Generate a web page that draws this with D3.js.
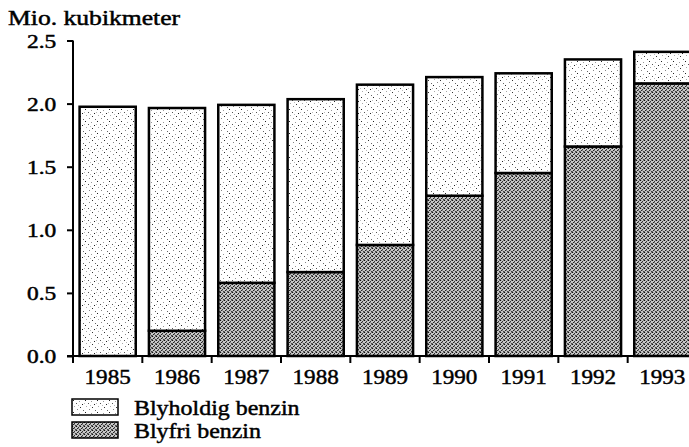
<!DOCTYPE html>
<html>
<head>
<meta charset="utf-8">
<script src="https://cdn.jsdelivr.net/npm/d3@7/dist/d3.min.js"></script>
<style>
  html, body { margin: 0; padding: 0; background: #fff; }
  svg { display: block; }
  text { font-family: "Liberation Serif", "DejaVu Serif", serif; fill: #000; stroke: #000; stroke-width: 0.45px; }
</style>
</head>
<body>
<svg id="chart" width="689" height="447"></svg>
<script>
// Benzinforbrug, mio. kubikmeter
const years = ["1985", "1986", "1987", "1988", "1989", "1990", "1991", "1992", "1993"];
const blyfri = [0.00, 0.20, 0.58, 0.665, 0.88, 1.27, 1.45, 1.66, 2.16];
const total = [1.975, 1.965, 1.99, 2.035, 2.15, 2.21, 2.24, 2.35, 2.41];
const blyholdig = total.map((t, i) => +(t - blyfri[i]).toFixed(3));
const yTicks = [0, 0.5, 1.0, 1.5, 2.0, 2.5];
const seriesNames = ["Blyholdig benzin", "Blyfri benzin"];

const svg = d3.select("#chart");
const x0 = 73, x1 = 697, yTop = 40.5, yBase = 356;

const x = d3.scaleBand().domain(years).range([x0, x1]).paddingInner(0.19).paddingOuter(0.095);
const xEdges = d3.scaleBand().domain(years).range([x0, x1]).padding(0);
const y = d3.scaleLinear().domain([0, 2.5]).range([yBase, yTop]);

// widen lettering horizontally (wide typeset print look)
function widen(sel, factor) {
  sel.each(function () {
    const w = this.getComputedTextLength();
    d3.select(this).attr("textLength", w * factor).attr("lengthAdjust", "spacingAndGlyphs");
  });
}

// stipple fills
const defs = svg.append("defs");
function stipple(id, size, bg, dots) {
  const p = defs.append("pattern").attr("id", id).attr("patternUnits", "userSpaceOnUse")
    .attr("width", size).attr("height", size);
  p.append("rect").attr("width", size).attr("height", size).attr("fill", bg);
  dots.forEach(([dx, dy, c]) => p.append("rect").attr("x", dx).attr("y", dy)
    .attr("width", 1).attr("height", 1).attr("fill", c));
}
stipple("light", 12, "#ffffff", [
  [1, 1, "#222"], [7, 2, "#999"], [4, 4, "#555"], [10, 5, "#222"], [2, 7, "#aaa"],
  [8, 8, "#333"], [5, 10, "#888"], [11, 11, "#666"], [0, 4, "#bbb"], [6, 6, "#bbb"]
]);
stipple("dark", 4, "#c8c8c8", [
  [0, 0, "#111"], [2, 1, "#333"], [1, 2, "#222"], [3, 3, "#444"], [3, 0, "#777"],
  [1, 0, "#aaa"], [0, 3, "#666"], [2, 2, "#888"]
]);

const stacks = [
  { key: "blyfri", fill: "url(#dark)", lo: years.map(() => 0), hi: blyfri },
  { key: "blyholdig", fill: "url(#light)", lo: blyfri, hi: blyfri.map((b, i) => b + blyholdig[i]) }
];

stacks.forEach(s => {
  svg.append("g").selectAll("rect").data(years).join("rect")
    .attr("x", d => x(d))
    .attr("width", x.bandwidth())
    .attr("y", (d, i) => y(s.hi[i]))
    .attr("height", (d, i) => Math.max(0, y(s.lo[i]) - y(s.hi[i])))
    .attr("fill", s.fill)
    .attr("stroke", (d, i) => s.hi[i] - s.lo[i] > 0 ? "#000" : "none")
    .attr("stroke-width", 2.5);
});

// y axis
const yAxis = svg.append("g").attr("transform", `translate(${x0},0)`)
  .call(d3.axisLeft(y).tickValues(yTicks).tickFormat(d3.format(".1f")).tickSize(6).tickPadding(9));
yAxis.select(".domain").attr("stroke-width", 2).attr("d", `M0,${yTop}V${yBase}`);
yAxis.selectAll(".tick line").attr("stroke-width", 2);
yAxis.selectAll(".tick text").attr("font-size", 18).attr("dy", "0.38em")
  .attr("text-anchor", "start").attr("x", -46)
  .style("font-family", "Liberation Serif").call(widen, 1.3);

// x axis: ticks sit on the category boundaries
const xAxis = svg.append("g").attr("transform", `translate(0,${yBase})`);
xAxis.append("line").attr("x1", x0 - 6).attr("x2", 689).attr("stroke", "#000").attr("stroke-width", 2);
xAxis.selectAll("line.t").data(years).join("line").attr("class", "t")
  .attr("x1", d => xEdges(d)).attr("x2", d => xEdges(d))
  .attr("y1", 0).attr("y2", 7).attr("stroke", "#000").attr("stroke-width", 2);
xAxis.selectAll("text").data(years).join("text")
  .attr("x", d => x(d) + x.bandwidth() / 2).attr("y", 28)
  .attr("text-anchor", "middle").attr("font-size", 21).text(d => d).call(widen, 1.1);

// title
svg.append("text").attr("x", 8).attr("y", 25).attr("font-size", 20)
  .text("Mio. kubikmeter").call(widen, 1.28);

// legend
const legend = svg.append("g").attr("transform", "translate(72,399)");
const legendFills = ["url(#light)", "url(#dark)"];
seriesNames.forEach((name, i) => {
  const g = legend.append("g").attr("transform", `translate(0,${i * 23})`);
  g.append("rect").attr("width", 46).attr("height", 16).attr("fill", legendFills[i])
    .attr("stroke", "#000").attr("stroke-width", 1.5);
  g.append("text").attr("x", 62).attr("y", 16).attr("font-size", 21).text(name).call(widen, 1.14);
});
</script>
</body>
</html>
